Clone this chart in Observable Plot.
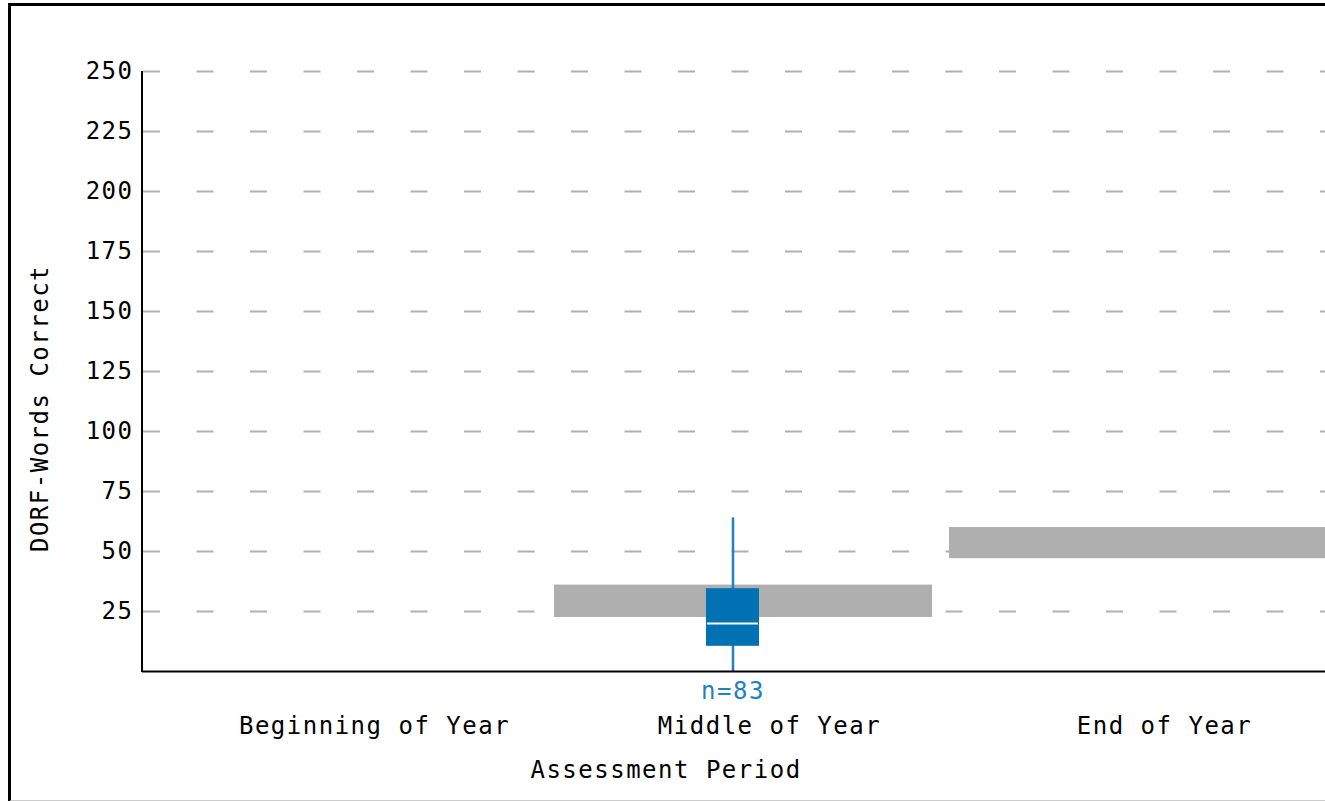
<!DOCTYPE html>
<html>
<head>
<meta charset="utf-8">
<script src="https://cdn.jsdelivr.net/npm/d3@7"></script>
<script src="https://cdn.jsdelivr.net/npm/@observablehq/plot@0.6"></script>
<style>
  html, body { margin: 0; padding: 0; background: #fff; overflow: hidden; }
  #wrap { position: relative; width: 1325px; height: 801px; }
  #border { position: absolute; left: 8px; top: 3px; width: 1330px; height: 794px;
            border-left: 3px solid #000; border-top: 3px solid #000; border-bottom: 2px solid #ccc;
            pointer-events: none; }
  #chart { position: absolute; left: 0; top: 0; }
</style>
</head>
<body>
<div id="wrap"><div id="chart"></div><div id="border"></div></div>
<script>
// Categories and values
const periods = ["Beginning of Year", "Middle of Year", "End of Year"];
const yTicks = [25, 50, 75, 100, 125, 150, 175, 200, 225, 250];
const benchPeriods = ["Middle of Year", "End of Year"];
const benchLow = [22.5, 47];
const benchHigh = [36, 60];
const boxPeriod = ["Middle of Year"];
const boxMin = [0];
const boxQ1 = [10.5];
const boxMedian = [20];
const boxQ3 = [34.5];
const boxMax = [64];
const boxN = [83];
const yLabel = "DORF-Words Correct";
const xLabel = "Assessment Period";

const bench = benchPeriods.map((p, i) => ({period: p, lo: benchLow[i], hi: benchHigh[i]}));
const boxes = boxPeriod.map((p, i) => ({period: p, min: boxMin[i], q1: boxQ1[i], med: boxMedian[i], q3: boxQ3[i], max: boxMax[i], n: boxN[i]}));

const font = "'DejaVu Sans Mono', 'Liberation Mono', monospace";
const blueBox = "#0071b2";
const blueLine = "#1f80c6";
const boxShift = -10.5;

const chart = Plot.plot({
  width: 1325,
  height: 801,
  marginLeft: 142,
  marginRight: 0,
  marginTop: 71,
  marginBottom: 130,
  style: {fontFamily: font, fontSize: "24px", letterSpacing: "1.5px", color: "#000", background: "transparent", overflow: "hidden"},
  x: {type: "band", domain: periods, range: [142, 1344], paddingInner: 0.043, paddingOuter: 0.043},
  y: {domain: [0, 250]},
  marks: [
    Plot.gridY(yTicks, {stroke: "#b0b0b0", strokeOpacity: 1, strokeWidth: 2, strokeDasharray: "17,36.5", strokeDashoffset: -1}),
    Plot.barY(bench, {x: "period", y1: "lo", y2: "hi", fill: "#afafaf"}),
    Plot.ruleX(boxes, {x: "period", y1: "min", y2: "max", stroke: blueLine, strokeWidth: 2.5, dx: boxShift}),
    Plot.barY(boxes, {x: "period", y1: "q1", y2: "q3", fill: blueBox, insetLeft: 152, insetRight: 173}),
    Plot.tickY(boxes, {x: "period", y: "med", stroke: "#fff", strokeWidth: 2, insetLeft: 153, insetRight: 174}),
    Plot.text(boxes, {x: "period", y: "min", text: d => "n=" + d.n, fill: blueLine, dx: boxShift, dy: 20, fontSize: 24}),
    Plot.axisY(yTicks, {tickSize: 0, tickPadding: 9, label: null, fontSize: 24}),
    Plot.axisX({tickSize: 0, tickPadding: 45, dx: 26, label: null, fontSize: 24}),
    Plot.ruleY([0], {stroke: "#000", strokeWidth: 2}),
    Plot.text([yLabel], {frameAnchor: "left", textAnchor: "middle", rotate: -90, dx: -102, dy: 37, fontSize: 24}),
    Plot.text([xLabel], {frameAnchor: "bottom", dx: -68, dy: 106, fontSize: 24})
  ]
});

// y-axis domain line, derived from the y scale
const ys = chart.scale("y");
d3.select(chart).append("line")
  .attr("x1", 142).attr("x2", 142)
  .attr("y1", ys.apply(250)).attr("y2", ys.apply(0) + 1)
  .attr("stroke", "#000").attr("stroke-width", 2);

document.getElementById("chart").append(chart);
</script>
</body>
</html>
